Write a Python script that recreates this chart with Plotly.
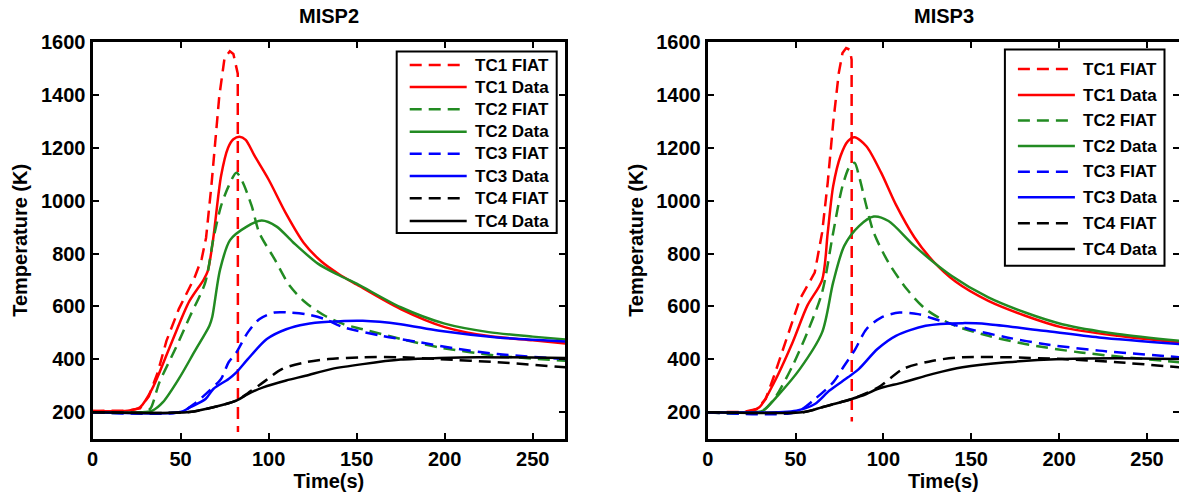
import plotly.graph_objects as go

# ---------------- data (time in s, temperature in K) ----------------
series_names = ["TC1 FIAT", "TC1 Data", "TC2 FIAT", "TC2 Data",
                "TC3 FIAT", "TC3 Data", "TC4 FIAT", "TC4 Data"]
panel_titles = ["MISP2", "MISP3"]
x_ticks = [0, 50, 100, 150, 200, 250]
y_ticks = [200, 400, 600, 800, 1000, 1200, 1400, 1600]

# MISP2
L_TC1_FIAT_t = [0, 20, 27, 32, 37, 42, 49, 54, 58, 62, 64.5, 67.5, 70, 72, 75, 78, 80, 82.5, 82.6]
L_TC1_FIAT_T = [205, 206, 215, 260, 350, 470, 590, 660, 710, 780, 860, 1055, 1260, 1395, 1540, 1565, 1555, 1480, 125]
L_TC1_Data_t = [0, 20, 27, 34, 45, 55, 63, 65.5, 68.5, 73, 77, 80, 83.5, 87, 92, 100, 110, 120, 130, 140, 150, 175, 200, 225, 250, 268.5]
L_TC1_Data_T = [205, 206, 219, 290, 465, 620, 700, 735, 854, 1093, 1200, 1232, 1242, 1230, 1170, 1080, 950, 840, 770, 722, 683, 590, 522, 488, 472, 460]
L_TC2_FIAT_t = [0, 30, 33, 38, 47, 55.5, 64, 68.6, 73, 77.3, 81.7, 85, 90.4, 94.7, 103.4, 112, 121, 132, 142.6, 153.5, 175, 197, 230, 268.5]
L_TC2_FIAT_T = [200, 201, 215, 313, 439, 565, 690, 854, 980, 1055, 1106, 1074, 980, 879, 779, 678, 615, 565, 533, 514, 477, 445, 414, 395]
L_TC2_Data_t = [0, 30, 34, 40, 49, 58, 66.4, 68, 72.4, 78.1, 87.6, 96.1, 104.6, 114, 128, 140, 150, 175, 200, 225, 250, 268.5]
L_TC2_Data_T = [200, 201, 206, 238, 326, 430, 527, 560, 738, 851, 902, 925, 902, 842, 762, 718, 686, 597, 535, 503, 486, 475]
L_TC3_FIAT_t = [0, 50, 57.7, 66.4, 73, 77.3, 81.7, 88.2, 94.7, 103.4, 112, 121, 132, 142.6, 164.4, 186.2, 208, 230, 268.5]
L_TC3_FIAT_T = [200, 201, 231, 282, 326, 389, 426, 502, 552, 577, 577, 571, 552, 521, 489, 464, 439, 420, 401]
L_TC3_Data_t = [0, 50, 55.5, 64.2, 68.6, 77.3, 81.7, 88.2, 99, 110, 121, 134, 153.5, 175, 197, 230, 268.5]
L_TC3_Data_T = [200, 201, 219, 250, 288, 326, 351, 401, 477, 514, 533, 542, 546, 533, 508, 483, 468]
L_TC4_FIAT_t = [0, 55, 68.6, 81.7, 88.2, 96.9, 107.8, 121, 134, 153.5, 175, 197, 230, 268.5]
L_TC4_FIAT_T = [200, 201, 219, 244, 272, 313, 364, 389, 401, 408, 408, 401, 389, 370]
L_TC4_Data_t = [0, 55, 68.6, 81.7, 88.2, 96.9, 110, 121, 136, 153.5, 175, 197, 219, 268.5]
L_TC4_Data_T = [200, 201, 219, 244, 269, 294, 320, 338, 364, 382, 399, 405, 408, 405]

# MISP3
R_TC1_FIAT_t = [0, 20, 28, 33, 37.8, 46.2, 52.5, 60.9, 65.1, 68.3, 71.4, 74.6, 76.7, 78.8, 80.9, 81.9, 82.0]
R_TC1_FIAT_T = [200, 201, 212, 250, 338, 502, 628, 728, 879, 1068, 1294, 1483, 1558, 1577, 1571, 1533, 165]
R_TC1_Data_t = [0, 22, 29.4, 37.8, 48.3, 56.7, 65.1, 68.3, 71.4, 75.6, 79.8, 83.6, 90.3, 98.7, 107.1, 117.6, 128.2, 140.8, 159.7, 180.7, 201.7, 233.2, 268.5]
R_TC1_Data_T = [200, 201, 219, 313, 464, 603, 700, 879, 1055, 1169, 1225, 1240, 1206, 1106, 985, 862, 772, 695, 621, 565, 521, 489, 464]
R_TC2_FIAT_t = [0, 30, 37.8, 48.3, 56.7, 65.1, 71.4, 76.7, 80.9, 83.6, 86.1, 90.3, 94.5, 102.9, 113.4, 124, 138.7, 159.7, 180.7, 212.2, 268.5]
R_TC2_FIAT_T = [200, 201, 250, 376, 502, 653, 879, 1055, 1131, 1143, 1093, 980, 879, 766, 665, 590, 533, 489, 458, 426, 389]
R_TC2_Data_t = [0, 28, 31.5, 39.9, 52.5, 65.1, 71.4, 77.7, 86.1, 94.5, 102.9, 117.6, 138.7, 159.7, 180.7, 201.7, 233.2, 268.5]
R_TC2_Data_T = [200, 201, 206, 263, 364, 502, 691, 829, 904, 940, 923, 829, 716, 634, 577, 533, 496, 470]
R_TC3_FIAT_t = [0, 50.4, 61, 71.4, 77.7, 84, 90.3, 98.7, 109.2, 119.7, 132.4, 149.2, 170.2, 191.2, 222.7, 268.5]
R_TC3_FIAT_T = [200, 201, 250, 313, 376, 439, 514, 558, 577, 571, 546, 514, 483, 458, 433, 408]
R_TC3_Data_t = [0, 50.4, 61, 69.3, 79.8, 86.1, 96.6, 107.1, 124, 145, 159.7, 191.2, 222.7, 268.5]
R_TC3_Data_T = [200, 206, 231, 282, 332, 364, 439, 489, 527, 537, 533, 508, 483, 458]
R_TC4_FIAT_t = [0, 55, 65.1, 81.9, 90.3, 98.7, 111.3, 128.2, 145, 170.2, 201.7, 233.2, 268.5]
R_TC4_FIAT_T = [200, 201, 219, 250, 272, 301, 364, 395, 408, 408, 401, 389, 370]
R_TC4_Data_t = [0, 55, 65.1, 81.9, 90.3, 96.6, 111.3, 128.2, 145, 170.2, 201.7, 233.2, 268.5]
R_TC4_Data_T = [200, 201, 219, 250, 269, 288, 313, 345, 370, 389, 401, 404, 401]

# ---------------- styling ----------------
colors = ["#FF0000", "#FF0000", "#228B22", "#228B22", "#0000FF", "#0000FF", "#000000", "#000000"]
FONT = "Liberation Sans, Arial, sans-serif"
DASH = "12px,7px"
LW = 2.5

panels = [
    [(L_TC1_FIAT_t, L_TC1_FIAT_T), (L_TC1_Data_t, L_TC1_Data_T), (L_TC2_FIAT_t, L_TC2_FIAT_T), (L_TC2_Data_t, L_TC2_Data_T),
     (L_TC3_FIAT_t, L_TC3_FIAT_T), (L_TC3_Data_t, L_TC3_Data_T), (L_TC4_FIAT_t, L_TC4_FIAT_T), (L_TC4_Data_t, L_TC4_Data_T)],
    [(R_TC1_FIAT_t, R_TC1_FIAT_T), (R_TC1_Data_t, R_TC1_Data_T), (R_TC2_FIAT_t, R_TC2_FIAT_T), (R_TC2_Data_t, R_TC2_Data_T),
     (R_TC3_FIAT_t, R_TC3_FIAT_T), (R_TC3_Data_t, R_TC3_Data_T), (R_TC4_FIAT_t, R_TC4_FIAT_T), (R_TC4_Data_t, R_TC4_Data_T)],
]

W = 1179.0
H = 496.0

fig = go.Figure()
for p, panel in enumerate(panels):
    xa = "x" if p == 0 else "x2"
    ya = "y" if p == 0 else "y2"
    for i, (tt, TT) in enumerate(panel):
        fiat = "FIAT" in series_names[i]
        shape = "linear" if i == 0 else "spline"
        fig.add_trace(go.Scatter(
            x=tt, y=TT, mode="lines", name=series_names[i],
            xaxis=xa, yaxis=ya, showlegend=False,
            line=dict(color=colors[i], width=LW, dash=DASH if fiat else "solid",
                      shape=shape, smoothing=0.8),
        ))

# ---------------- legends (box, samples, labels in paper coords) ----------------
legend_boxes = [  # left, right, top, bottom in px
    (396.7, 556.7, 51.5, 233.0),
    (1004.9, 1164.5, 49.5, 265.7),
]
legend_rows = [
    [65.0, 87.0, 109.3, 131.7, 153.7, 176.0, 198.3, 221.0],
    [69.0, 95.0, 120.5, 146.0, 171.7, 197.3, 223.3, 249.0],
]
shapes = []
annotations = []
for p in range(2):
    l, r, t, b = legend_boxes[p]
    shapes.append(dict(type="rect", xref="paper", yref="paper",
                       x0=l / W, x1=r / W, y0=1 - b / H, y1=1 - t / H,
                       line=dict(color="black", width=2), fillcolor="white", layer="above"))
    for i, yy in enumerate(legend_rows[p]):
        fiat = "FIAT" in series_names[i]
        shapes.append(dict(type="line", xref="paper", yref="paper",
                           x0=(l + 13) / W, x1=(l + 70) / W, y0=1 - yy / H, y1=1 - yy / H,
                           line=dict(color=colors[i], width=LW, dash=DASH if fiat else "solid"),
                           layer="above"))
        annotations.append(dict(text=f"<b>{series_names[i]}</b>", xref="paper", yref="paper",
                                x=(l + 76) / W, y=1 - yy / H, xanchor="left", yanchor="middle",
                                showarrow=False, font=dict(family=FONT, size=17, color="black")))

for p in range(2):
    cx = (92.5 + 565.3) / 2 if p == 0 else (707.7 + 1179.5) / 2
    annotations.append(dict(text=f"<b>{panel_titles[p]}</b>", x=cx / W, y=1 - 16 / H, xref="paper", yref="paper",
                            showarrow=False, font=dict(family=FONT, size=20, color="black"),
                            xanchor="center", yanchor="middle"))

ydom = [1 - 438.7 / H, 1 - 42 / H]
axis_common = dict(
    showline=True, linecolor="black", linewidth=3, mirror="ticks",
    ticks="inside", ticklen=6, tickwidth=2, tickcolor="black",
    showgrid=False, zeroline=False, automargin=False,
    tickfont=dict(family=FONT, size=20, color="black", weight="bold"),
)
xt = dict(text="<b>Time(s)</b>", font=dict(family=FONT, size=20, color="black"), standoff=2)
yt = dict(text="<b>Temperature (K)</b>", font=dict(family=FONT, size=20, color="black"), standoff=8)

fig.update_layout(
    width=1179, height=496,
    margin=dict(l=0, r=0, t=0, b=0, autoexpand=False),
    paper_bgcolor="white", plot_bgcolor="white",
    font=dict(family=FONT, color="black"),
    showlegend=False,
    xaxis=dict(domain=[92.5 / W, 565.3 / W], range=[0, 268.5], tickvals=x_ticks, anchor="y", title=xt, **axis_common),
    yaxis=dict(domain=ydom, range=[100, 1600], tickvals=y_ticks, anchor="x", title=yt, **axis_common),
    xaxis2=dict(domain=[707.7 / W, 1.0], range=[0, 268.2], tickvals=x_ticks, anchor="y2", title=xt, **axis_common),
    yaxis2=dict(domain=ydom, range=[100, 1600], tickvals=y_ticks, anchor="x2", title=yt, **axis_common),
    shapes=shapes,
    annotations=annotations,
)

fig.write_html("out.html")
